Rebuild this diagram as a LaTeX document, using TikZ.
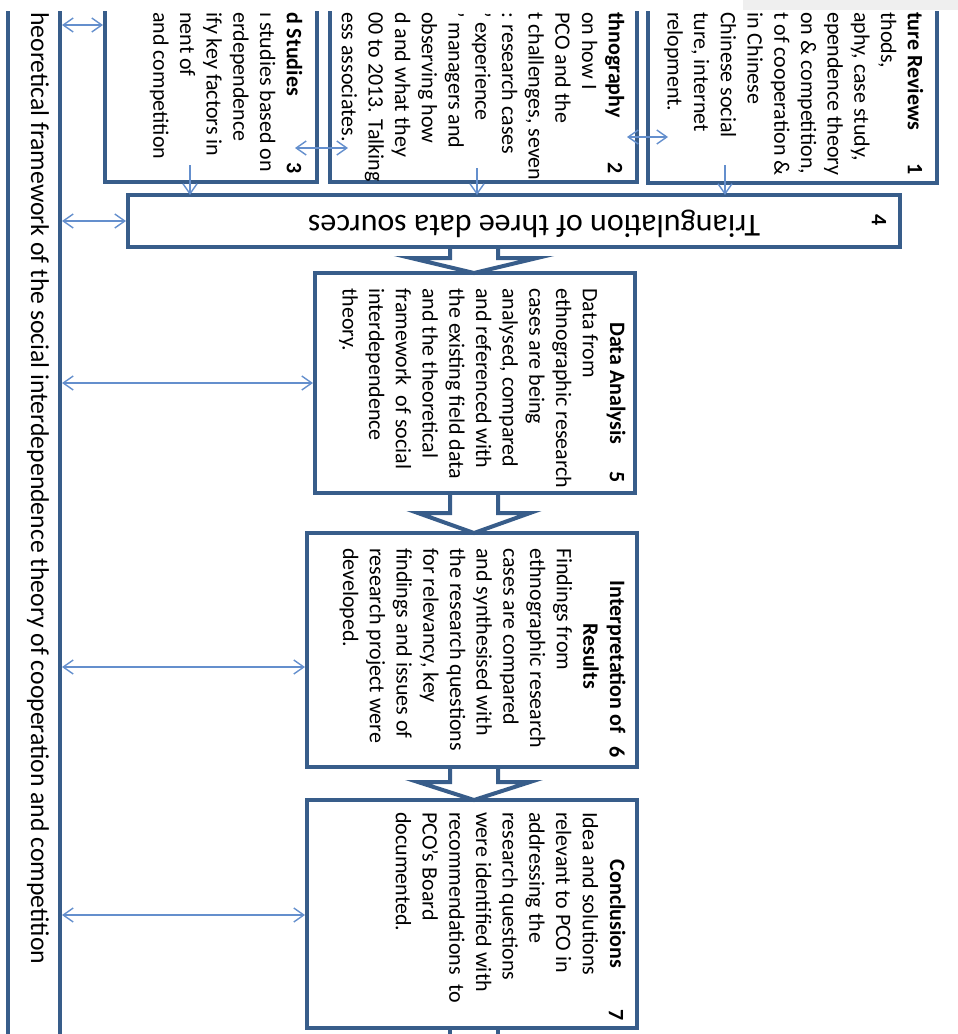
\documentclass[tikz,border=0pt]{standalone}
\usepackage{fontspec}
\setmainfont{Carlito}
\usetikzlibrary{arrows.meta,calc}
\definecolor{boxblue}{RGB}{56,93,138}
\definecolor{thinblue}{RGB}{100,143,205}
\definecolor{topgray}{RGB}{239,239,239}
\begin{document}
\begin{tikzpicture}[x=1pt,y=-1pt,
  box/.style={draw=boxblue, line width=4pt, fill=white, rectangle, inner sep=0pt, outer sep=0pt},
  bandbox/.style={draw=boxblue, line width=4pt, rectangle, inner sep=0pt, outer sep=0pt},
  blockarrow/.style={draw=boxblue, line width=4pt, fill=white, line join=miter},
  tipstyle/.style={},
  link/.style={draw=thinblue, line width=1.4pt, {Straight Barb[length=10pt,width=14pt]}-{Straight Barb[length=10pt,width=14pt]}, shorten >=2pt, shorten <=2pt},
  crosslink/.style={draw=thinblue, line width=1.4pt, {Straight Barb[length=10pt,width=14pt]}-{Straight Barb[length=10pt,width=14pt]}},
  feed/.style={draw=thinblue, line width=1.4pt, -{Straight Barb[length=10pt,width=14pt]}},
  body/.style={rotate=-90, anchor=north west, align=left, inner sep=0pt, font=\fontsize{22}{26.7}\selectfont},
  title/.style={rotate=-90, anchor=base, inner sep=0pt, font=\fontsize{22}{26.7}\selectfont\bfseries},
  num/.style={rotate=-90, anchor=center, inner sep=0pt, font=\fontsize{22}{26.7}\selectfont\bfseries},
]
\useasboundingbox (0,0) rectangle (958,1034);
\begin{scope}
\clip (0,11) rectangle (958,1034);
% frame band and boxes
\node[bandbox, minimum width=52pt, minimum height=1100pt] (band) at (34,517) {};
\node[box, minimum width=289pt, minimum height=223pt] (b1) at (792.5,71.5) {};
\node[box, minimum width=307pt, minimum height=222pt] (b2) at (483.5,71) {};
\node[box, minimum width=212pt, minimum height=222pt] (b3) at (211,71) {};
\node[box, minimum width=772pt, minimum height=52pt] (b4) at (514,221) {};
\node[box, minimum width=320pt, minimum height=220pt] (b5) at (475,383) {};
\node[box, minimum width=330pt, minimum height=234pt] (b6) at (472,650) {};
\node[box, minimum width=330pt, minimum height=228pt] (b7) at (472,914) {};
% block arrows
\draw[blockarrow] ($(b4.south -| 450,0)+(0,2)$) -- (450,258) -- (411,258) -- (b5.north -| 474,0) -- (537,258) -- (498,258) -- ($(b4.south -| 498,0)+(0,2)$);
\draw[blockarrow] ($(b5.south -| 450,0)+(0,2)$) -- (450,513) -- (418,513) -- (b6.north -| 474,0) -- (530,513) -- (498,513) -- ($(b5.south -| 498,0)+(0,2)$);
\draw[blockarrow] ($(b6.south -| 450,0)+(0,2)$) -- (450,782) -- (418,782) -- (b7.north -| 474,0) -- (530,782) -- (498,782) -- ($(b6.south -| 498,0)+(0,2)$);
\draw[draw=boxblue, line width=4pt] ($(b7.south -| 450,0)+(0,2)$) -- +(0,20);
\draw[draw=boxblue, line width=4pt] ($(b7.south -| 498,0)+(0,2)$) -- +(0,20);
% thin connectors
\draw[link] (band.east |- 0,25) -- (b3.west |- 0,25);
\draw[link] (band.east |- b4.west) -- (b4.west);
\draw[link] (band.east |- 0,383) -- (b5.west |- 0,383);
\draw[link] (band.east |- 0,667) -- (b6.west |- 0,667);
\draw[link] (band.east |- 0,915) -- (b7.west |- 0,915);
\draw[crosslink] ($(b3.east |- 0,148)+(-22,0)$) -- ($(b2.west |- 0,148)+(18,0)$);
\draw[crosslink] ($(b2.east |- 0,137)+(-10,0)$) -- ($(b1.west |- 0,137)+(20,0)$);
\draw[feed] ($(b3.south -| 190,0)+(0,-17)$) -- (b4.north -| 190,0);
\draw[feed] ($(b2.south -| 477,0)+(0,-14)$) -- (b4.north -| 477,0);
\draw[feed] ($(b1.south -| 725,0)+(0,-18)$) -- (b4.north -| 725,0);
% texts
\node[rotate=-90, anchor=base west, inner sep=0pt, font=\fontsize{25.7}{31}\selectfont] (bandtext) at (31,12) {heoretical framework of the social interdependence theory of cooperation and competition};
\node[body] (t1) at (926.7,12) {\strut\textbf{ture Reviews}\\ thods,\\ aphy, case study,\\ ependence theory\\ on \& competition,\\ t of cooperation \&\\ in Chinese\\ Chinese social\\ ture, internet\\ relopment.};
\node[body] (t2) at (627.7,12) {\strut\textbf{thnography}\\ on how I\\ PCO and the\\ t challenges, seven\\ : research cases\\ ’ experience\\ ’ managers and\\ observing how\\ d and what they\\ 00 to 2013. Talking\\ ess associates.};
\node[body] (t3) at (305.7,12) {\strut\textbf{d Studies}\\ ı studies based on\\ erdependence\\ ify key factors in\\ nent of\\ and competition};
\node[num] (n1) at (915,169) {1};
\node[num] (n2) at (615,168) {2};
\node[num] (n3) at (294,168) {3};
\node[num] (n4) at (879,220) {4};
\node[rotate=180, anchor=base, inner sep=0pt, font=\fontsize{32}{38}\selectfont] (tri) at (534,215) {Triangulation of three data sources};
\node[title] (h5) at (610,383.5) {Data Analysis};
\node[num] (n5) at (617,477) {5};
\node[body] (t5) at (601.7,288) {\strut Data from\\ ethnographic research\\ cases are being\\ analysed, compared\\ and referenced with\\ the existing field data\\ and the theoretical\\ framework~ of social\\ interdependence\\ theory.};
\node[title] (h6a) at (610,657) {Interpretation of};
\node[title] (h6b) at (583.3,656) {Results};
\node[num] (n6) at (617,752) {6};
\node[body] (t6) at (575.7,548) {\strut Findings from\\ ethnographic research\\ cases are compared\\ and synthesised with\\ the research questions\\ for relevancy, key\\ findings and issues of\\ research project were\\ developed.};
\node[title] (h7) at (610,914) {Conclusions};
\node[num] (n7) at (616,1015) {7};
\node[body] (t7) at (601.7,812) {\strut Idea and solutions\\ relevant to PCO in\\ addressing the\\ research questions\\ were identified with\\ recommendations~ to\\ PCO’s Board\\ documented.};
\end{scope}
\fill[topgray] (743,0) rectangle (958,10);
\end{tikzpicture}
\end{document}
